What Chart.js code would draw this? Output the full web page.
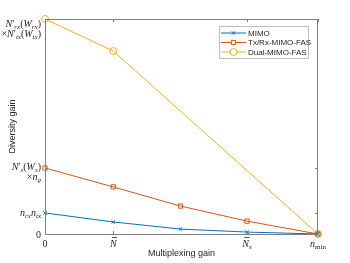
<!DOCTYPE html>
<html>
<head>
<meta charset="utf-8">
<script src="https://cdn.jsdelivr.net/npm/chart.js@4.4.0/dist/chart.umd.min.js"></script>
<style>
  html, body { margin: 0; padding: 0; background: #fff; }
  #wrap { width: 350px; height: 263px; }
</style>
</head>
<body>
<div id="wrap"><canvas id="gainChart"></canvas></div>
<script>
// x positions of the multiplexing-gain ticks (0, N-bar, N-bar_s, n_min), normalised
const xTicks = [0, 0.25, 0.74, 1];
const xMimo = [0, 0.25, 0.496, 0.74, 1];
const xDual = [0, 0.25, 1];

// diversity gain values, normalised to the top tick
const mimoData = [0.098, 0.056, 0.023, 0.009, 0];
const fasData = [0.307, 0.219, 0.130, 0.060, 0];
const dualData = [1.0, 0.851, 0];
const yTicks = [0, 0.098, 0.307, 1.0];

const seriesNames = ['MIMO', 'Tx/Rx-MIMO-FAS', 'Dual-MIMO-FAS'];

// tick labels as [text, kind] pieces: n = normal, i = italic, b = italic with overbar,
// s = italic subscript, sn = upright subscript
const xTickLabels = [
  [[['0', 'n']]],
  [[['N', 'b']]],
  [[['N', 'b'], ['s', 's']]],
  [[['n', 'i'], ['min', 'sn']]]
];
const yTickLabels = [
  [[['0', 'n']]],
  [[['n', 'i'], ['rx', 's'], ['n', 'i'], ['tx', 's']]],
  [[['N', 'i'], ['\u2032', 'n'], ['s', 's'], ['(', 'n'], ['W', 'i'], ['s', 's'], [')', 'n']],
   [['\u00d7', 'n'], ['n', 'i'], ['g', 's']]],
  [[['N', 'i'], ['\u2032', 'n'], ['rx', 's'], ['(', 'n'], ['W', 'i'], ['rx', 's'], [')', 'n']],
   [['\u00d7', 'n'], ['N', 'i'], ['\u2032', 'n'], ['tx', 's'], ['(', 'n'], ['W', 'i'], ['tx', 's'], [')', 'n']]]
];

const colors = ['#0072BD', '#D95319', '#EDB120'];
const styles = ['crossRot', 'rect', 'circle'];
const radii = [2.5, 3, 3.5];

function toPoints(xs, ys) {
  return xs.map((x, i) => ({ x: x, y: ys[i] }));
}

function pieceFont(kind) {
  if (kind === 'n') return '10px "Liberation Serif", serif';
  if (kind === 'i' || kind === 'b') return 'italic 10px "Liberation Serif", serif';
  if (kind === 's') return 'italic 7px "Liberation Serif", serif';
  return '7px "Liberation Serif", serif';
}

function lineWidth(ctx, line) {
  let w = 0;
  line.forEach(p => { ctx.font = pieceFont(p[1]); w += ctx.measureText(p[0]).width; });
  return w;
}

function drawLine(ctx, line, x, y) {
  line.forEach(p => {
    ctx.font = pieceFont(p[1]);
    const sub = p[1] === 's' || p[1] === 'sn';
    const w = ctx.measureText(p[0]).width;
    ctx.fillText(p[0], x, sub ? y + 3 : y);
    if (p[1] === 'b') {
      ctx.save();
      ctx.strokeStyle = ctx.fillStyle;
      ctx.lineWidth = 0.8;
      ctx.beginPath();
      ctx.moveTo(x + 2, y - 6.5); ctx.lineTo(x + w + 0.5, y - 6.5);
      ctx.stroke();
      ctx.restore();
    }
    x += w;
  });
}

const decor = {
  id: 'decor',
  afterDatasetsDraw(chart) {
    const ctx = chart.ctx;
    const a = chart.chartArea;
    const xs = chart.scales.x, ys = chart.scales.y;
    ctx.save();
    // box
    ctx.strokeStyle = '#808080';
    ctx.lineWidth = 1;
    ctx.strokeRect(a.left + 0.5, a.top + 0.5, a.right - a.left - 1, a.bottom - a.top);
    // inward ticks
    ctx.beginPath();
    xTicks.forEach(v => {
      const px = Math.round(xs.getPixelForValue(v)) + 0.5;
      ctx.moveTo(px, a.bottom); ctx.lineTo(px, a.bottom - 3);
      ctx.moveTo(px, a.top); ctx.lineTo(px, a.top + 3);
    });
    yTicks.forEach(v => {
      const py = Math.round(ys.getPixelForValue(v)) + 0.5;
      ctx.moveTo(a.left, py); ctx.lineTo(a.left + 3, py);
      ctx.moveTo(a.right, py); ctx.lineTo(a.right - 3, py);
    });
    ctx.stroke();

    // tick labels
    ctx.fillStyle = '#262626';
    ctx.textBaseline = 'middle';
    ctx.textAlign = 'left';
    xTicks.forEach((v, i) => {
      const px = xs.getPixelForValue(v);
      const line = xTickLabels[i][0];
      drawLine(ctx, line, px - lineWidth(ctx, line) / 2, a.bottom + 10);
    });
    const yOffsets = [[1], [0], [-1, 9], [5, 15]];
    yTicks.forEach((v, i) => {
      const py = ys.getPixelForValue(v);
      yTickLabels[i].forEach((line, j) => {
        drawLine(ctx, line, a.left - 4 - lineWidth(ctx, line), py + yOffsets[i][j]);
      });
    });

    // axis titles
    ctx.font = '9px "Liberation Sans", Arial, sans-serif';
    ctx.textAlign = 'center';
    ctx.fillText('Multiplexing gain', (a.left + a.right) / 2, 254);
    ctx.save();
    ctx.translate(13, (a.top + a.bottom) / 2);
    ctx.rotate(-Math.PI / 2);
    ctx.fillText('Diversity gain', 0, 0);
    ctx.restore();

    // legend
    const lx = 219, ly = 26, lw = 89, lh = 32;
    ctx.fillStyle = '#fff';
    ctx.fillRect(lx, ly, lw, lh);
    ctx.strokeStyle = '#bfbfbf';
    ctx.strokeRect(lx + 0.5, ly + 0.5, lw, lh);
    ctx.textAlign = 'left';
    seriesNames.forEach((name, i) => {
      const ry = ly + 7 + i * 9.5;
      ctx.strokeStyle = colors[i];
      ctx.lineWidth = 1;
      ctx.beginPath();
      ctx.moveTo(lx + 2, ry); ctx.lineTo(lx + 27, ry);
      ctx.stroke();
      ctx.fillStyle = '#fff';
      Chart.helpers.drawPoint(ctx, { pointStyle: styles[i], radius: radii[i], borderWidth: 1 }, lx + 14.5, ry);
      ctx.fillStyle = '#262626';
      ctx.font = '8px "Liberation Sans", Arial, sans-serif';
      ctx.fillText(name, lx + 29, ry + 0.5);
    });
    ctx.restore();
  }
};

function makeSet(label, pts, i) {
  return {
    label: label,
    data: pts,
    borderColor: colors[i],
    backgroundColor: 'rgba(0,0,0,0)',
    pointBorderColor: colors[i],
    pointBackgroundColor: 'rgba(0,0,0,0)',
    pointStyle: styles[i],
    pointRadius: radii[i],
    pointBorderWidth: 1,
    borderWidth: 1,
    tension: 0,
    clip: false
  };
}

new Chart(document.getElementById('gainChart').getContext('2d'), {
  type: 'line',
  data: {
    datasets: [
      makeSet(seriesNames[0], toPoints(xMimo, mimoData), 0),
      makeSet(seriesNames[1], toPoints(xMimo, fasData), 1),
      makeSet(seriesNames[2], toPoints(xDual, dualData), 2)
    ]
  },
  options: {
    responsive: true,
    maintainAspectRatio: false,
    animation: false,
    layout: { padding: { left: 45, right: 32, top: 19, bottom: 29 } },
    plugins: { legend: { display: false }, tooltip: { enabled: false } },
    scales: {
      x: {
        type: 'linear', min: 0, max: 1,
        ticks: { display: false },
        grid: { display: false, drawTicks: false },
        border: { display: false }
      },
      y: {
        min: 0, max: 1,
        ticks: { display: false },
        grid: { display: false, drawTicks: false },
        border: { display: false }
      }
    }
  },
  plugins: [decor]
});
</script>
</body>
</html>
